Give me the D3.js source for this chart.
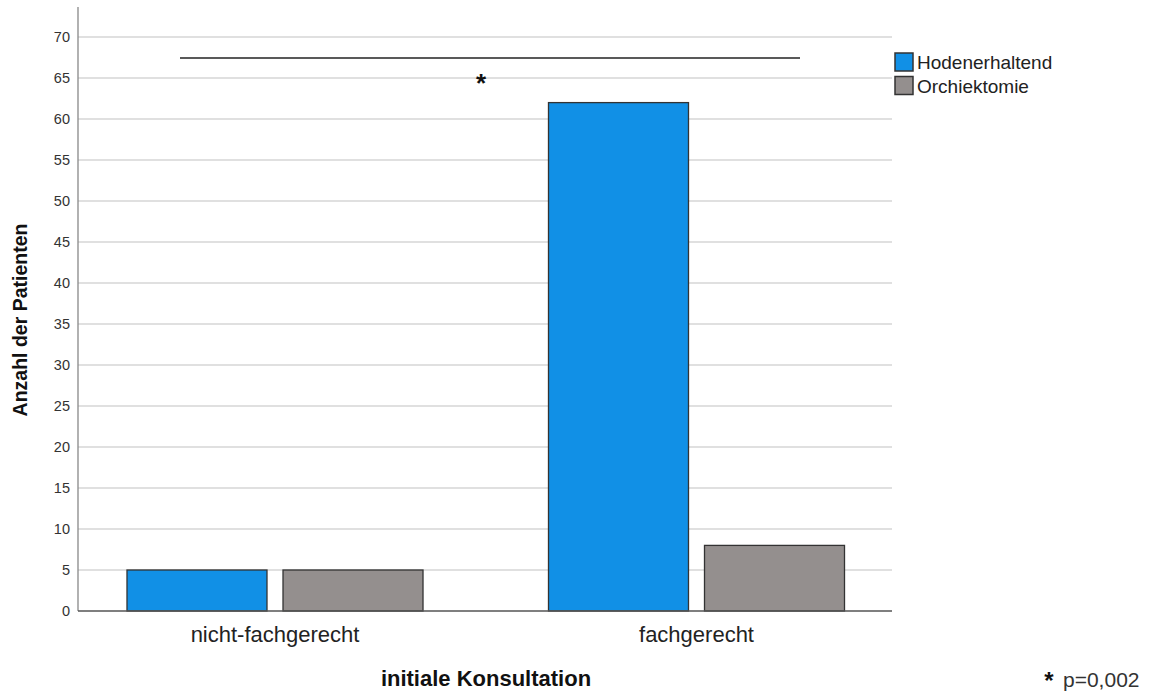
<!DOCTYPE html>
<html><head><meta charset="utf-8">
<script src="https://cdn.jsdelivr.net/npm/d3@7"></script>
<style>body{margin:0;background:#fff;} text{font-family:"Liberation Sans",Arial,sans-serif;}</style>
</head><body>
<svg id="c" width="1149" height="697"></svg>
<script>
const categories = ["nicht-fachgerecht", "fachgerecht"];
const seriesNames = ["Hodenerhaltend", "Orchiektomie"];
const hodenerhaltend = [5, 62];
const orchiektomie = [5, 8];
const yTicks = [0,5,10,15,20,25,30,35,40,45,50,55,60,65,70];
const colors = ["#1190e6", "#948f8e"];

const svg = d3.select("#c");
const y = d3.scaleLinear().domain([0, 70]).range([611, 37]);
const x0 = d3.scaleBand().domain(categories).range([64.25, 907.25]).paddingInner(0.2977).paddingOuter(0.14885);
const x1 = d3.scaleBand().domain(seriesNames).range([0, x0.bandwidth()]).paddingInner(0.1026).paddingOuter(0);
const plotL = 78, plotR = 892;

// gridlines
svg.append("g").selectAll("line").data(yTicks.filter(d=>d>0)).join("line")
  .attr("x1", plotL).attr("x2", plotR).attr("y1", d=>y(d)).attr("y2", d=>y(d))
  .attr("stroke", "#d6d6d6").attr("stroke-width", 1.6);

// y axis
const yAxis = svg.append("g").attr("transform", `translate(${plotL},0)`)
  .call(d3.axisLeft(y).tickValues(yTicks).tickSize(0).tickPadding(8));
yAxis.select(".domain").remove();
yAxis.selectAll("text").attr("font-size", 14.5).attr("fill", "#333").attr("font-family", "'Liberation Sans',Arial,sans-serif");
svg.append("line").attr("x1", plotL).attr("x2", plotL).attr("y1", 7).attr("y2", 611).attr("stroke", "#888").attr("stroke-width", 1.3);

// bars
const data = categories.map((c,i)=>({cat:c, vals:[{s:seriesNames[0], v:hodenerhaltend[i], c:colors[0]},{s:seriesNames[1], v:orchiektomie[i], c:colors[1]}]}));
svg.append("g").selectAll("g").data(data).join("g")
  .attr("transform", d=>`translate(${x0(d.cat)},0)`)
  .selectAll("rect").data(d=>d.vals).join("rect")
  .attr("x", d=>x1(d.s)).attr("width", x1.bandwidth())
  .attr("y", d=>y(d.v)).attr("height", d=>y(0)-y(d.v))
  .attr("fill", d=>d.c).attr("stroke", "#333").attr("stroke-width", 1.3);

// baseline
svg.append("line").attr("x1", plotL).attr("x2", plotR).attr("y1", 611).attr("y2", 611).attr("stroke", "#555").attr("stroke-width", 1.3);

// x axis labels
const xAxis = svg.append("g").attr("transform", `translate(0,611)`)
  .call(d3.axisBottom(x0).tickSize(0).tickPadding(15));
xAxis.select(".domain").remove();
xAxis.selectAll("text").attr("font-size", 22).attr("fill", "#222").attr("font-family", "'Liberation Sans',Arial,sans-serif");

// axis titles
svg.append("text").attr("x", 486).attr("y", 686).attr("text-anchor", "middle")
  .attr("font-size", 22).attr("font-weight", "bold").attr("fill", "#111").text("initiale Konsultation");
svg.append("text").attr("transform", "translate(27,320) rotate(-90)").attr("text-anchor", "middle")
  .attr("font-size", 19.5).attr("font-weight", "bold").attr("fill", "#111").text("Anzahl der Patienten");

// significance
svg.append("line").attr("x1", 180).attr("x2", 800).attr("y1", 58).attr("y2", 58).attr("stroke", "#222").attr("stroke-width", 1.3);
svg.append("text").attr("x", 481).attr("y", 92).attr("text-anchor", "middle").attr("font-size", 26).attr("font-weight", "bold").attr("fill", "#111").text("*");
svg.append("text").attr("x", 1049).attr("y", 689).attr("text-anchor", "middle").attr("font-size", 24).attr("font-weight", "bold").attr("fill", "#111").text("*");
svg.append("text").attr("x", 1063).attr("y", 687).attr("font-size", 21).attr("fill", "#333").text("p=0,002");

// legend
const lg = svg.append("g");
seriesNames.forEach((s,i)=>{
  lg.append("rect").attr("x", 895).attr("y", 53 + i*23.5).attr("width", 18).attr("height", 18)
    .attr("fill", colors[i]).attr("stroke", "#333").attr("stroke-width", 1.5);
  lg.append("text").attr("x", 917).attr("y", 69 + i*23.5).attr("font-size", 19).attr("fill", "#222").text(s);
});
</script>
</body></html>
